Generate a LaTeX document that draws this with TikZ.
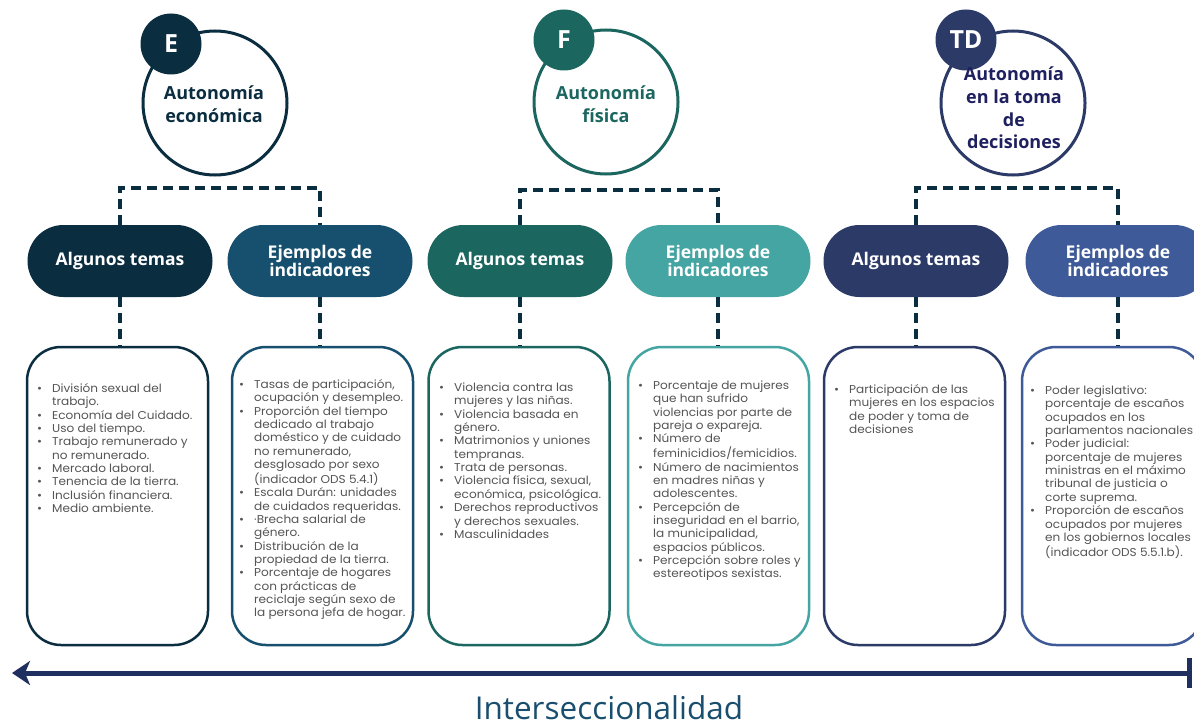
\documentclass[tikz,border=0pt]{standalone}
\usepackage{fontspec}
\setmainfont{Open Sans}
\newfontfamily\boxfont[FakeStretch=1.06]{Poppins}
\usetikzlibrary{arrows.meta,calc}
\definecolor{cE}{HTML}{0B2D40}
\definecolor{cEb}{HTML}{17506E}
\definecolor{cF}{HTML}{1C6660}
\definecolor{cFb}{HTML}{45A5A3}
\definecolor{cT}{HTML}{2C3A68}
\definecolor{cTb}{HTML}{3F5A98}
\definecolor{cTtext}{HTML}{1E2060}
\definecolor{dashc}{HTML}{0B2D40}
\definecolor{arrc}{HTML}{1F2F5F}
\definecolor{boxtext}{HTML}{555555}
\definecolor{intc}{HTML}{1A4E6E}
\newcommand{\bl}{\textbullet}
\tikzset{
  bigcirc/.style={circle, draw=#1, line width=3pt, fill=white, minimum size=144pt, inner sep=0pt},
  smallcirc/.style={circle, fill=#1, minimum size=61pt, inner sep=0pt, text=white, font=\fontsize{25}{25}\selectfont\bfseries},
  pill/.style={rectangle, rounded corners=36pt, fill=#1, minimum width=185pt, minimum height=72pt, inner sep=0pt, text=white, align=center, font=\fontsize{17.5}{16}\selectfont\bfseries},
  panel/.style={rectangle, rounded corners=34pt, draw=#1, line width=2.5pt, minimum width=181pt, minimum height=298pt, inner sep=0pt},
  listtxt/.style={anchor=north west, inner sep=0pt, text=boxtext, align=left, font=\boxfont\fontsize{11.4}{13.35}\selectfont},
  dashcon/.style={draw=dashc, line width=3.5pt, dash pattern=on 10pt off 6pt},
  circtxt/.style={align=center, font=\fontsize{18}{23}\selectfont\bfseries}
}
\newcommand{\blist}[1]{\begin{tabular}{@{}p{15pt}@{}l@{}}#1\end{tabular}}
\begin{document}
\begin{tikzpicture}[x=1pt,y=-1pt]
\useasboundingbox (0,0) rectangle (1194,725);
\clip (0,0) rectangle (1194,725);
\fill[white] (0,0) rectangle (1194,725);

% circles
\node[bigcirc=cE] (cE) at (215,103) {};
\node[smallcirc=cE] (sE) at (171,44) {E};
\node[circtxt, text=cE] (tE) at (214,104) {Autonomía\\económica};

\node[bigcirc=cF] (cF) at (606,102) {};
\node[smallcirc=cF] (sF) at (564,40) {F};
\node[circtxt, text=cF] (tF) at (606,104) {Autonomía\\física};

\node[bigcirc=cT] (cT) at (1013,103) {};
\node[smallcirc=cT] (sT) at (966,40) {TD};
\node[circtxt, text=cTtext, font=\fontsize{18}{22.7}\selectfont\bfseries] (tT) at (1014,108) {Autonomía\\en la toma\\de\\decisiones};

% pills
\node[pill=cE]  (p1) at (120,261) {Algunos temas};
\node[pill=cEb] (p2) at (320,261) {Ejemplos de\\indicadores};
\node[pill=cF]  (p3) at (520,261) {Algunos temas};
\node[pill=cFb] (p4) at (718,261) {Ejemplos de\\indicadores};
\node[pill=cT]  (p5) at (916,261) {Algunos temas};
\node[pill=cTb] (p6) at (1118,261) {Ejemplos de\\indicadores};

% panels
\node[panel=cE]  (b1) at (117.5,496) {};
\node[panel=cEb] (b2) at (322.5,496) {};
\node[panel=cF]  (b3) at (519,496) {};
\node[panel=cFb] (b4) at (718.5,496) {};
\node[panel=cT]  (b5) at (914.5,496) {};
\node[panel=cTb] (b6) at (1112.5,496) {};

% brackets
\draw[dashcon] (p1.north) -- ++(0,-37) -| (p2.north);
\draw[dashcon] (p3.north) -- ++(0,-35) -| (p4.north);
\draw[dashcon] (p5.north) -- ++(0,-37) -| (p6.north);
% verticals
\foreach \i in {1,...,6} { \draw[dashcon] (p\i.south) -- (p\i.south |- b\i.north); }

% lists
\node[listtxt] (l1) at (37,383) {\blist{
\bl & División sexual del\\ & trabajo.\\
\bl & Economía del Cuidado.\\
\bl & Uso del tiempo.\\
\bl & Trabajo remunerado y\\ & no remunerado.\\
\bl & Mercado laboral.\\
\bl & Tenencia de la tierra.\\
\bl & Inclusión financiera.\\
\bl & Medio ambiente.}};

\node[listtxt] (l2) at (239,379) {\blist{
\bl & Tasas de participación,\\ & ocupación y desempleo.\\
\bl & Proporción del tiempo\\ & dedicado al trabajo\\ & doméstico y de cuidado\\ & no remunerado,\\ & desglosado por sexo\\ & (indicador ODS 5.4.1)\\
\bl & Escala Durán: unidades\\ & de cuidados requeridas.\\
\bl & ·Brecha salarial de\\ & género.\\
\bl & Distribución de la\\ & propiedad de la tierra.\\
\bl & Porcentaje de hogares\\ & con prácticas de\\ & reciclaje según sexo de\\ & la persona jefa de hogar.}};

\node[listtxt] (l3) at (439,382) {\blist{
\bl & Violencia contra las\\ & mujeres y las niñas.\\
\bl & Violencia basada en\\ & género.\\
\bl & Matrimonios y uniones\\ & tempranas.\\
\bl & Trata de personas.\\
\bl & Violencia física, sexual,\\ & económica, psicológica.\\
\bl & Derechos reproductivos\\ & y derechos sexuales.\\
\bl & Masculinidades}};

\node[listtxt] (l4) at (638,380) {\blist{
\bl & Porcentaje de mujeres\\ & que han sufrido\\ & violencias por parte de\\ & pareja o expareja.\\
\bl & Número de\\ & feminicidios/femicidios.\\
\bl & Número de nacimientos\\ & en madres niñas y\\ & adolescentes.\\
\bl & Percepción de\\ & inseguridad en el barrio,\\ & la municipalidad,\\ & espacios públicos.\\
\bl & Percepción sobre roles y\\ & estereotipos sexistas.}};

\node[listtxt] (l5) at (834,384) {\blist{
\bl & Participación de las\\ & mujeres en los espacios\\ & de poder y toma de\\ & decisiones}};

\node[listtxt] (l6) at (1030,385) {\blist{
\bl & Poder legislativo:\\ & porcentaje de escaños\\ & ocupados en los\\ & parlamentos nacionales\\
\bl & Poder judicial:\\ & porcentaje de mujeres\\ & ministras en el máximo\\ & tribunal de justicia o\\ & corte suprema.\\
\bl & Proporción de escaños\\ & ocupados por mujeres\\ & en los gobiernos locales\\ & (indicador ODS 5.5.1.b).}};

% arrow
\coordinate (aL) at (12,673);
\coordinate (aR) at (1192,673);
\draw[arrc, line width=5pt, {Stealth[length=18pt,width=24pt,inset=5pt]}-{Bar[width=30pt]}] (aL) -- (aR);
\node[text=intc, font=\fontsize{31.5}{31.5}\selectfont, anchor=base, inner sep=0pt, text depth=0pt] (int) at (609,719) {Interseccionalidad};
\end{tikzpicture}
\end{document}
